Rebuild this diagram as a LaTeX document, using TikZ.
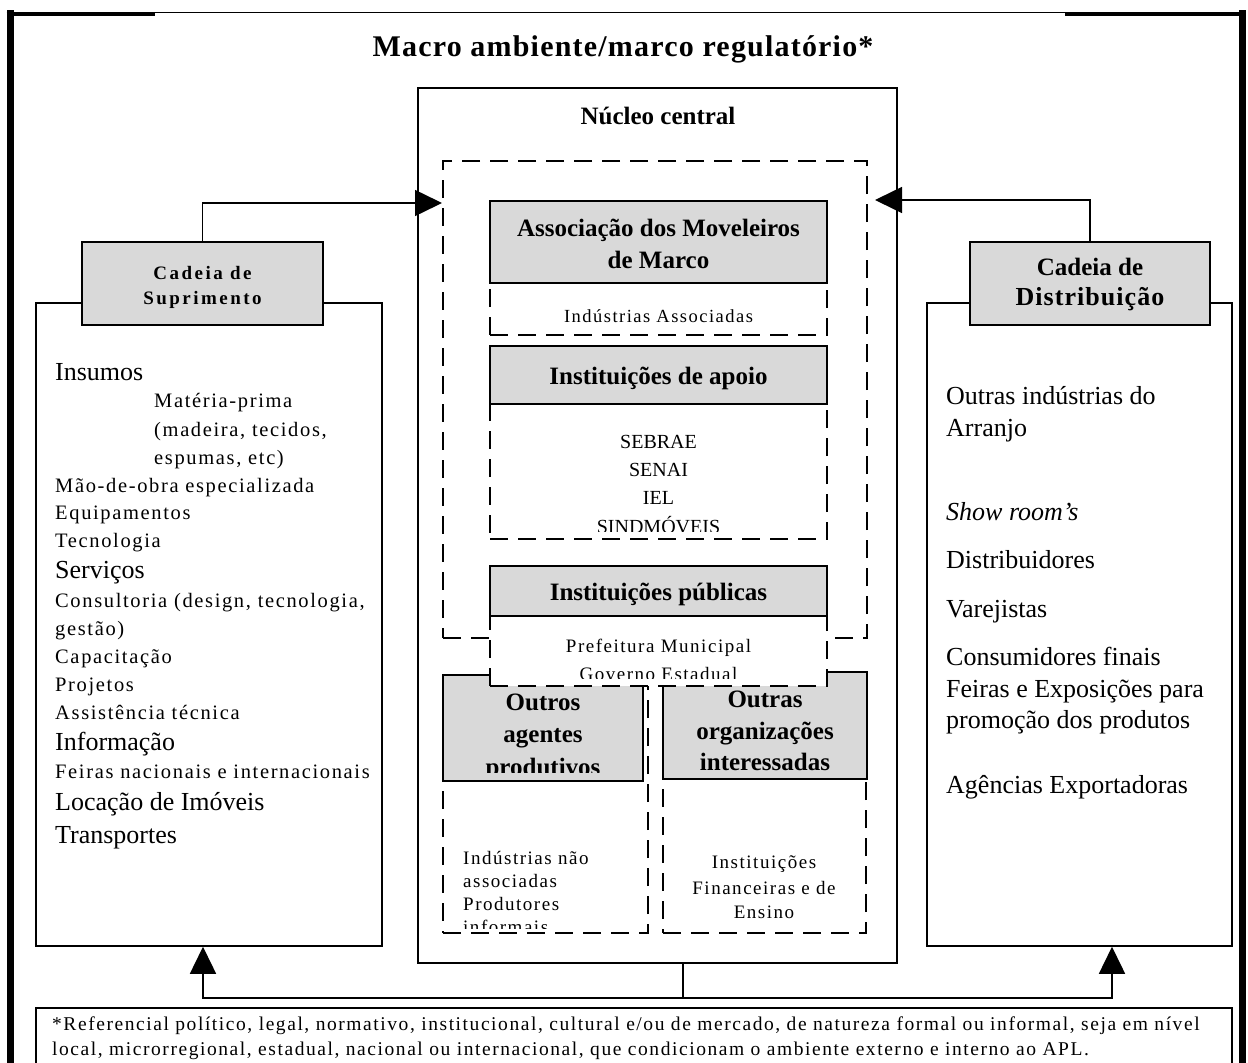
\documentclass[tikz,border=0pt]{standalone}
\usepackage{fontspec}
\setmainfont{Liberation Serif}
\newfontfamily\lsA[LetterSpace=8]{Liberation Serif}
\newfontfamily\lsB[LetterSpace=13]{Liberation Serif}
\newfontfamily\lsT[LetterSpace=4]{Liberation Serif}
\usetikzlibrary{arrows.meta}
\definecolor{boxgray}{RGB}{217,217,217}
\newcommand\fsz[1]{\fontsize{#1}{#1}\selectfont}
\begin{document}
\begin{tikzpicture}[x=1pt,y=-1pt,
  solidbox/.style={draw, line width=1.5pt, inner sep=0pt, fill=white},
  graybox/.style={draw, line width=2pt, fill=boxgray, inner sep=0pt},
  dashbox/.style={draw, line width=2.5pt, dash pattern=on 18pt off 10pt, inner sep=0pt},
  conn/.style={line width=1.5pt},
  arrowtip/.style={-{Triangle[length=27pt,width=26pt]}},
  txt/.style={inner sep=0pt, anchor=base},
  txtl/.style={inner sep=0pt, anchor=base west},
  big/.style={font=\fsz{26}},
  small/.style={font=\lsA\fsz{20.5}},
  mid/.style={font=\lsA\fsz{19}},
  hd/.style={font=\bfseries\fsz{25}}
]
\fill[white] (0,0) rectangle (1248,1063);
\useasboundingbox (0,0) rectangle (1248,1063);

% outer frame
\draw[line width=7pt] (10,1090) -- (10,10);
\draw[line width=7pt] (1242,1090) -- (1242,10);
\draw[line width=4pt] (6.5,13.5) -- (155,13.5);
\draw[line width=4pt] (1065,13.5) -- (1245.5,13.5);
\draw[line width=1.5pt] (155,12.5) -- (1065,12.5);

\node[txt, font=\lsT\bfseries\fsz{30}] (title) at (623,56) {Macro ambiente/marco regulatório*};

% central nucleus
\node[draw, line width=1.5pt, minimum width=479pt, minimum height=875pt, inner sep=0pt] (nucleo) at (657.5,525.5) {};
\node[txt, hd] (nuctitle) at (658,124) {Núcleo central};
\node[dashbox, minimum width=424pt, minimum height=477pt] (core) at (655,399.5) {};

% lower dashed boxes
\node[dashbox, fill=white, minimum width=205pt, minimum height=258pt] (lowL) at (545.5,804) {};
\node[dashbox, fill=white, minimum width=203pt, minimum height=261pt] (lowR) at (764.5,802.5) {};
\node[graybox, minimum width=200pt, minimum height=106pt] (agentes) at (543,728) {};
\node[graybox, minimum width=204pt, minimum height=107pt] (orgs) at (765,725.5) {};
\begin{scope}
\clip (443,675) rectangle (643,772);
\node[txt, hd] (ag1) at (543,710) {Outros};
\node[txt, hd] (ag2) at (543,742) {agentes};
\node[txt, hd] (ag3) at (543,775) {produtivos};
\end{scope}
\node[txt, hd] (or1) at (765,707) {Outras};
\node[txt, hd] (or2) at (765,739) {organizações};
\node[txt, hd] (or3) at (765,770) {interessadas};
\begin{scope}
\clip (443,781) rectangle (648,928);
\node[txtl, mid] (lo1) at (463,864) {Indústrias não};
\node[txtl, mid] (lo2) at (463,887) {associadas};
\node[txtl, mid] (lo3) at (463,910) {Produtores};
\node[txtl, mid] (lo4) at (463,933) {informais};
\end{scope}
\node[txt, mid] (ro1) at (764,868) {Instituições};
\node[txt, mid] (ro2) at (764,894) {Financeiras e de};
\node[txt, mid] (ro3) at (764,918) {Ensino};

% Associação
\node[dashbox, fill=white, minimum width=337pt, minimum height=134pt] (amm) at (658.5,268) {};
\node[graybox, minimum width=337pt, minimum height=82pt] (ammg) at (658.5,242) {};
\node[txt, hd] (amm1) at (658.5,236) {Associação dos Moveleiros};
\node[txt, hd] (amm2) at (658.5,268) {de Marco};
\node[txt, font=\lsA\fsz{18.5}] (amm3) at (658.5,322) {Indústrias Associadas};

% Instituições de apoio
\node[dashbox, fill=white, minimum width=337pt, minimum height=193pt] (apoio) at (658.5,442.5) {};
\node[graybox, minimum width=337pt, minimum height=58pt] (apoiog) at (658.5,375) {};
\node[txt, hd] (apoio1) at (658.5,384) {Instituições de apoio};
\begin{scope}
\clip (490,404) rectangle (827,531);
\node[txt, font=\fsz{20}] (s1) at (658.5,448) {SEBRAE};
\node[txt, font=\fsz{20}] (s2) at (658.5,476) {SENAI};
\node[txt, font=\fsz{20}] (s3) at (658.5,504) {IEL};
\node[txt, font=\fsz{20}] (s4) at (658.5,533) {SINDMÓVEIS};
\end{scope}

% Instituições públicas
\node[dashbox, fill=white, minimum width=337pt, minimum height=120pt] (pub) at (658.5,626) {};
\node[graybox, minimum width=337pt, minimum height=50pt] (pubg) at (658.5,591) {};
\node[txt, hd] (pub1) at (658.5,600) {Instituições públicas};
\begin{scope}
\clip (490,616) rectangle (827,678);
\node[txt, mid] (p1) at (658.5,652) {Prefeitura Municipal};
\node[txt, mid] (p2) at (658.5,680) {Governo Estadual};
\end{scope}

% supply chain
\node[solidbox, minimum width=346pt, minimum height=643pt] (supw) at (209,624.5) {};
\node[graybox, minimum width=241pt, minimum height=83pt] (supg) at (202.5,283.5) {};
\node[txt, font=\lsB\bfseries\fsz{19}] (sg1) at (202.5,279) {Cadeia de};
\node[txt, font=\lsB\bfseries\fsz{19}] (sg2) at (202.5,304) {Suprimento};
\node[txtl, big] (l1) at (55,380) {Insumos};
\node[txtl, small] (l2) at (154,407) {Matéria-prima};
\node[txtl, small] (l3) at (154,436) {(madeira, tecidos,};
\node[txtl, small] (l4) at (154,464) {espumas, etc)};
\node[txtl, small] (l5) at (55,492) {Mão-de-obra especializada};
\node[txtl, small] (l6) at (55,519) {Equipamentos};
\node[txtl, small] (l7) at (55,547) {Tecnologia};
\node[txtl, big] (l8) at (55,578) {Serviços};
\node[txtl, small] (l9) at (55,607) {Consultoria (design, tecnologia,};
\node[txtl, small] (l10) at (55,635) {gestão)};
\node[txtl, small] (l11) at (55,663) {Capacitação};
\node[txtl, small] (l12) at (55,691) {Projetos};
\node[txtl, small] (l13) at (55,719) {Assistência técnica};
\node[txtl, big] (l14) at (55,750) {Informação};
\node[txtl, small] (l15) at (55,778) {Feiras nacionais e internacionais};
\node[txtl, big] (l16) at (55,810) {Locação de Imóveis};
\node[txtl, big] (l17) at (55,843) {Transportes};

% distribution chain
\node[solidbox, minimum width=305pt, minimum height=643pt] (disw) at (1079.5,624.5) {};
\node[graybox, minimum width=240pt, minimum height=83pt] (disg) at (1090,283.5) {};
\node[txt, hd] (dg1) at (1090,275) {Cadeia de};
\node[txt, font=\lsT\bfseries\fsz{26}] (dg2) at (1090,305) {Distribuição};
\node[txtl, big] (r1) at (946,404) {Outras indústrias do};
\node[txtl, big] (r2) at (946,436) {Arranjo};
\node[txtl, big] (r3) at (946,520) {\itshape Show room’s};
\node[txtl, big] (r4) at (946,568) {Distribuidores};
\node[txtl, big] (r5) at (946,617) {Varejistas};
\node[txtl, big] (r6) at (946,665) {Consumidores finais};
\node[txtl, big] (r7) at (946,697) {Feiras e Exposições para};
\node[txtl, big] (r8) at (946,728) {promoção dos produtos};
\node[txtl, big] (r9) at (946,793) {Agências Exportadoras};

% connectors top
\coordinate (ltip) at (442,203);
\coordinate (rtip) at (875,200);
\draw[conn, arrowtip] (supg.north) |- (ltip);
\draw[conn, arrowtip] (disg.north) |- (rtip);

% connectors bottom
\coordinate (bj) at (683,998);
\coordinate (la) at (203,998);
\coordinate (ra) at (1112,998);
\draw[conn] (bj |- nucleo.south) -- (bj);
\draw[conn, arrowtip] (bj) -- (la) -- (la |- supw.south);
\draw[conn, arrowtip] (bj) -- (ra) -- (ra |- disw.south);

% footnote
\node[draw, line width=1.5pt, minimum width=1196pt, minimum height=84pt, inner sep=0pt] (foot) at (634,1050) {};
\node[txtl, font=\lsA\fsz{19.5}] (f1) at (52,1030) {*Referencial político, legal, normativo, institucional, cultural e/ou de mercado, de natureza formal ou informal, seja em nível};
\node[txtl, font=\lsA\fsz{19.5}] (f2) at (52,1055) {local, microrregional, estadual, nacional ou internacional, que condicionam o ambiente externo e interno ao APL.};
\end{tikzpicture}
\end{document}
